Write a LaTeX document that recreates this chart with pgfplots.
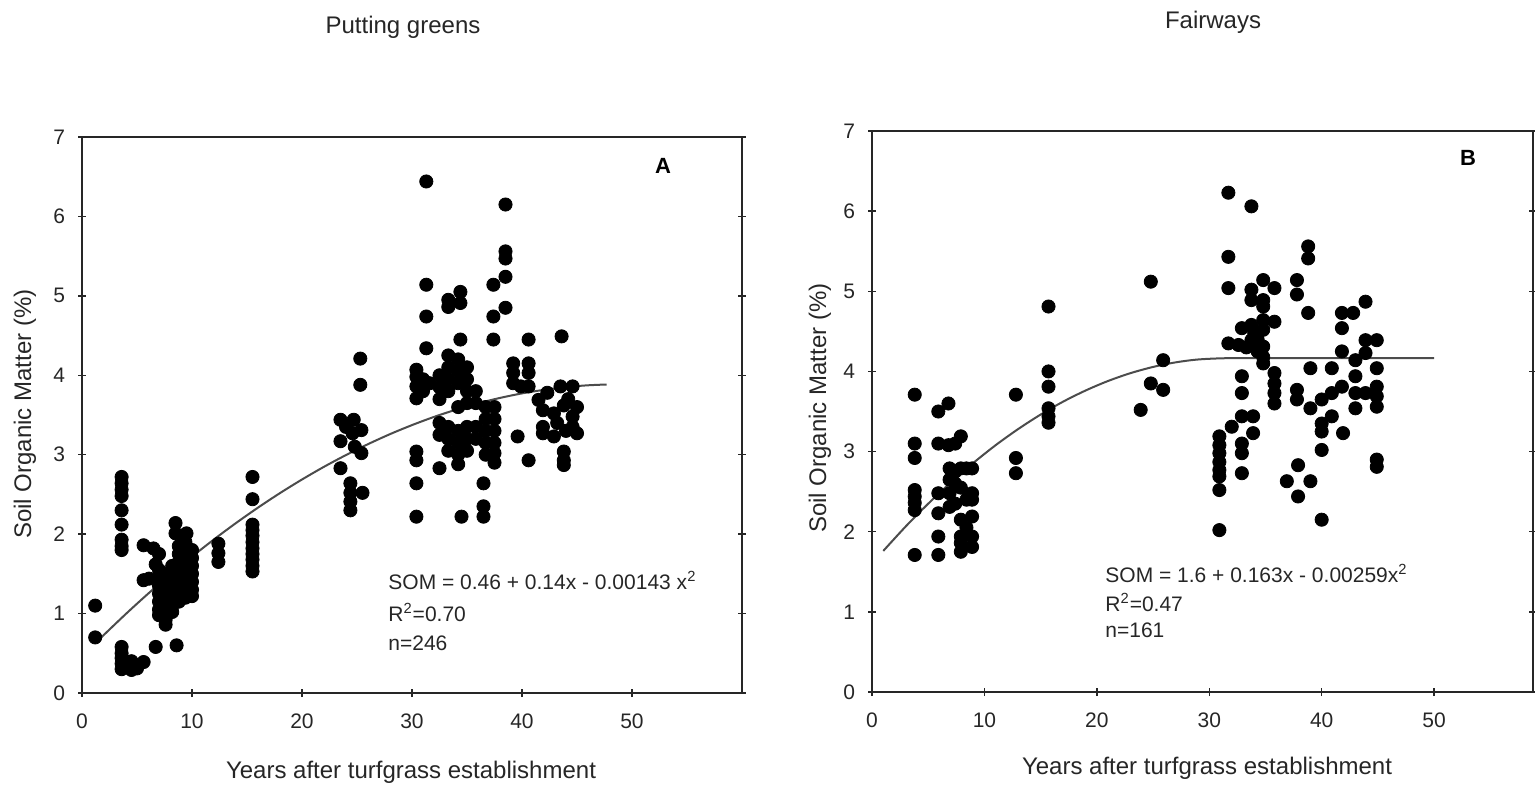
\documentclass[border=0pt]{standalone}
\usepackage{pgfplots}
\pgfplotsset{compat=1.18}
\usepackage{pgfplotstable}
\usepackage{fontspec}
\setmainfont{Liberation Sans}

% Soil organic matter (%) against years after establishment, putting greens
\pgfplotstableread{
x y
1.2 1.10
1.2 0.70
3.6 2.72
3.6 2.64
3.6 2.56
3.6 2.48
3.6 2.30
3.6 2.12
3.6 1.93
3.6 1.85
3.6 1.80
3.6 0.58
3.6 0.50
3.6 0.44
3.6 0.37
3.6 0.30
4.1 0.34
4.5 0.40
4.5 0.29
5.0 0.31
5.6 0.39
6.7 0.58
8.6 0.60
5.6 1.86
6.5 1.82
5.6 1.42
6.1 1.44
6.7 1.62
8.5 2.14
8.5 2.01
9.5 2.01
7.0 1.75
7.0 1.55
7.0 1.45
7.0 1.35
7.0 1.25
7.0 1.15
7.0 1.05
7.0 0.98
7.6 1.50
7.6 1.40
7.6 1.30
7.6 1.20
7.6 1.10
7.6 1.00
7.6 0.92
7.6 0.86
8.2 1.60
8.2 1.50
8.2 1.40
8.2 1.30
8.2 1.20
8.2 1.10
8.2 1.02
8.8 1.85
8.8 1.75
8.8 1.65
8.8 1.55
8.8 1.45
8.8 1.35
8.8 1.25
8.8 1.15
9.4 1.90
9.4 1.80
9.4 1.70
9.4 1.60
9.4 1.50
9.4 1.40
9.4 1.30
9.4 1.20
10.0 1.80
10.0 1.70
10.0 1.60
10.0 1.50
10.0 1.40
10.0 1.30
10.0 1.22
12.4 1.88
12.4 1.76
12.4 1.65
15.5 2.72
15.5 2.44
15.5 2.12
15.5 2.05
15.5 1.98
15.5 1.90
15.5 1.82
15.5 1.75
15.5 1.68
15.5 1.60
15.5 1.53
23.5 3.44
24.7 3.44
25.4 3.31
24.6 3.27
23.5 3.17
24.0 3.35
24.8 3.10
25.4 3.02
23.5 2.83
24.4 2.64
24.4 2.52
25.5 2.52
24.4 2.41
24.4 2.30
25.3 4.21
25.3 3.88
31.3 6.44
31.3 5.14
31.3 4.74
31.3 4.34
30.4 4.07
30.4 3.98
30.4 3.86
30.4 3.71
31.0 3.95
31.0 3.80
31.6 3.90
30.4 3.04
30.4 2.93
30.4 2.64
30.4 2.22
32.5 2.83
33.3 4.95
33.3 4.86
34.4 5.05
34.4 4.91
34.4 4.45
34.5 2.22
36.5 2.64
36.5 2.35
36.5 2.22
38.5 6.15
38.5 5.56
38.5 5.47
38.5 5.24
37.4 5.14
38.5 4.85
37.4 4.74
37.4 4.45
40.6 4.45
43.6 4.49
39.2 4.15
40.6 4.15
39.2 4.03
40.6 4.03
39.2 3.90
40.6 3.86
39.9 3.86
39.6 3.23
40.6 2.93
41.5 3.69
42.3 3.78
43.5 3.86
44.6 3.86
41.9 3.56
42.9 3.52
43.8 3.62
44.6 3.48
44.6 3.35
45.0 3.27
41.9 3.35
41.9 3.27
42.9 3.23
43.8 3.04
43.8 2.93
43.8 2.87
44.2 3.70
45.0 3.60
43.2 3.40
44.0 3.30
32.5 4.00
32.5 3.85
32.5 3.70
32.5 3.40
32.5 3.25
33.3 4.25
33.3 4.10
33.3 3.95
33.3 3.80
33.3 3.35
33.3 3.20
33.3 3.05
34.2 4.20
34.2 4.05
34.2 3.90
34.2 3.60
34.2 3.30
34.2 3.15
34.2 3.00
34.2 2.88
35.0 4.10
35.0 3.95
35.0 3.80
35.0 3.65
35.0 3.35
35.0 3.20
35.0 3.05
35.8 3.80
35.8 3.65
35.8 3.35
35.8 3.20
36.7 3.60
36.7 3.45
36.7 3.30
36.7 3.15
36.7 3.00
37.5 3.60
37.5 3.45
37.5 3.30
37.5 3.15
37.5 3.02
37.5 2.90
}\greens

% Soil organic matter (%) against years after establishment, fairways
\pgfplotstableread{
x y
3.8 3.71
3.8 3.10
3.8 2.92
3.8 2.52
3.8 2.44
3.8 2.36
3.8 2.27
3.8 1.71
5.9 3.50
6.8 3.60
5.9 3.10
6.8 3.08
7.9 3.19
7.4 3.10
6.9 2.79
7.4 2.75
7.9 2.79
8.4 2.79
8.9 2.79
6.9 2.65
7.4 2.60
5.9 2.48
6.9 2.48
7.9 2.55
8.9 2.48
8.4 2.40
8.9 2.40
6.9 2.31
7.4 2.35
5.9 2.23
7.9 2.15
8.9 2.19
8.4 2.05
5.9 1.94
7.9 1.94
8.9 1.94
7.9 1.86
8.9 1.81
5.9 1.71
7.9 1.75
12.8 3.71
12.8 2.92
12.8 2.73
15.7 4.81
15.7 4.00
15.7 3.81
15.7 3.54
15.7 3.44
15.7 3.36
23.9 3.52
24.8 5.12
24.8 3.85
25.9 4.14
25.9 3.77
31.7 6.23
33.75 6.06
31.7 5.43
31.7 5.04
38.8 5.56
38.8 5.41
37.8 5.14
37.8 4.96
38.8 4.73
33.75 5.02
34.8 5.14
35.8 5.04
34.8 4.89
33.75 4.89
34.8 4.81
32.9 4.54
33.75 4.58
34.8 4.64
35.8 4.62
34.0 4.48
34.8 4.52
31.7 4.35
32.6 4.33
33.75 4.39
34.8 4.31
34.8 4.18
34.8 4.10
34.3 4.40
34.3 4.25
33.3 4.30
32.9 3.94
32.9 3.73
32.9 3.44
33.9 3.44
32.0 3.31
33.9 3.23
32.9 3.10
32.9 2.98
32.9 2.73
30.9 3.19
30.9 3.08
30.9 2.98
30.9 2.87
30.9 2.77
30.9 2.69
30.9 2.52
30.9 2.02
35.8 3.98
35.8 3.85
35.8 3.73
35.8 3.60
37.8 3.77
37.8 3.65
39.0 4.04
40.9 4.04
39.0 3.54
40.0 3.65
40.9 3.73
40.0 3.35
40.9 3.44
40.0 3.25
41.9 3.23
40.0 3.02
37.9 2.83
36.9 2.63
39.0 2.63
37.9 2.44
40.0 2.15
41.8 4.73
42.8 4.73
43.9 4.87
41.8 4.54
41.8 4.25
43.0 4.14
43.9 4.39
44.9 4.39
43.9 4.23
44.9 4.04
43.0 3.94
41.8 3.81
43.0 3.73
43.9 3.73
44.9 3.81
44.9 3.69
44.9 3.56
43.0 3.54
44.9 2.90
44.9 2.81
}\fairways

\begin{document}
\begin{tikzpicture}
\pgfplotsset{
  panel/.style={
    scale only axis, xmin=0, ymin=0, ymax=7,
    xtick={0,10,...,50}, ytick={0,...,7},
    xtick pos=left, ytick pos=both, yticklabel pos=left,
    tick align=center, major tick length=4pt,
    axis line style={line width=0.9pt, black!85},
    tick style={line width=0.7pt, black!85},
    tick label style={font=\fontsize{10.5}{12}\selectfont, text=black!85},
    /pgf/number format/assume math mode=true,
    xticklabel style={yshift=-5pt},
    yticklabel style={xshift=-3pt},
    clip=false,
  },
  dots/.style={only marks, mark=*, mark size=3.3pt, black},
  fitline/.style={smooth, no marks, line width=1pt, black!70},
}
\useasboundingbox (0pt,0pt) rectangle (767.5pt,-393pt);

% ---- Putting greens ----
\begin{axis}[panel, at={(41pt,-346.5pt)}, anchor=south west,
  width=330pt, height=278pt, xmax=60]
\addplot[dots] table {\greens};
% SOM = 0.46 + 0.14x - 0.00143x^2
\addplot[fitline] coordinates {
 (1.5,0.667) (4,0.997) (6,1.249) (8,1.488) (10,1.717) (12,1.934)
 (14,2.140) (16,2.334) (18,2.517) (20,2.688) (22,2.848) (24,2.996)
 (26,3.133) (28,3.259) (30,3.373) (32,3.476) (34,3.567) (36,3.647)
 (38,3.715) (40,3.772) (42,3.817) (44,3.852) (46,3.874) (47.7,3.884)};
\end{axis}

% ---- Fairways ----
\begin{axis}[panel, at={(436pt,-346pt)}, anchor=south west,
  width=330.5pt, height=280.5pt, xmax=58.8]
\addplot[dots] table {\fairways};
% SOM = 1.6 + 0.163x - 0.00259x^2, plateau beyond the vertex
\addplot[fitline] coordinates {
 (1,1.760) (3,2.066) (5,2.350) (7,2.614) (9,2.857) (11,3.080)
 (13,3.281) (15,3.462) (17,3.623) (19,3.762) (21,3.881) (23,3.979)
 (25,4.056) (27,4.113) (29,4.149) (31.5,4.165) (35,4.165) (40,4.165)
 (45,4.165) (50,4.165)};
\end{axis}

% titles and axis labels
\begin{scope}[font=\fontsize{12}{14}\selectfont, text=black!85]
\node at (201.5pt,-13.5pt) {Putting greens};
\node at (606.5pt,-11pt) {Fairways};
\node at (205.5pt,-386pt) {Years after turfgrass establishment};
\node at (603.5pt,-384pt) {Years after turfgrass establishment};
\node[rotate=90] at (12.5pt,-207pt) {Soil Organic Matter (\%)};
\node[rotate=90] at (410pt,-204pt) {Soil Organic Matter (\%)};
\end{scope}

\node[font=\bfseries\fontsize{11}{13}\selectfont] at (331.5pt,-83pt) {A};
\node[font=\bfseries\fontsize{11}{13}\selectfont] at (734pt,-79pt) {B};

% fitted equations
\begin{scope}[font=\fontsize{10.5}{12}\selectfont, text=black!85, anchor=west, inner sep=0pt]
\node at (194pt,-290pt) {SOM = 0.46 + 0.14x - 0.00143 x\textsuperscript{2}};
\node at (194pt,-306pt) {R\textsuperscript{2}=0.70};
\node at (194pt,-321.5pt) {n=246};
\node at (552.5pt,-286.5pt) {SOM = 1.6 + 0.163x - 0.00259x\textsuperscript{2}};
\node at (552.5pt,-301pt) {R\textsuperscript{2}=0.47};
\node at (552.5pt,-315pt) {n=161};
\end{scope}
\end{tikzpicture}
\end{document}
